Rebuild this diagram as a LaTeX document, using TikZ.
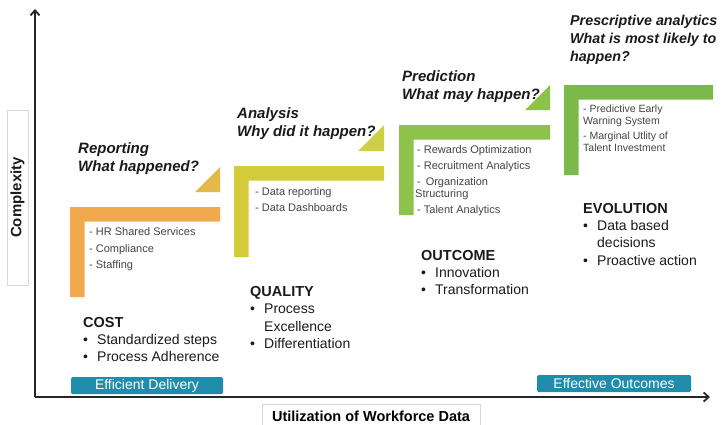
\documentclass[tikz,border=0pt]{standalone}
\usepackage{fontspec}
\setmainfont{Liberation Sans}
\usetikzlibrary{arrows.meta}

\definecolor{barorange}{HTML}{F2A94E}
\definecolor{triorange}{HTML}{E6B84A}
\definecolor{baryellow}{HTML}{D4CB3A}
\definecolor{triyellow}{HTML}{CDD046}
\definecolor{bargreen}{HTML}{8DC34A}
\definecolor{bardkgreen}{HTML}{7AB94A}
\definecolor{tealtag}{HTML}{1E8CAA}
\definecolor{inkdark}{HTML}{1A1A1A}
\definecolor{inksub}{HTML}{444444}
\definecolor{frame}{HTML}{D8D8D8}

% L-shaped step: corner (#1,#2), horizontal arm to x=#3, vertical arm down to y=#4
\newcommand{\stepL}[5]{%
  \fill[#5] (#1,#2) -- (#3,#2) -- (#3,#2+14.5) -- (#1+14.5,#2+14.5)
            -- (#1+14.5,#4) -- (#1,#4) -- cycle;}
% right triangle with its right angle at the lower right corner (#2,#3), legs of length #1
\newcommand{\steptri}[4]{%
  \fill[#4] (#2-#1,#3) -- (#2,#3) -- (#2,#3-#1) -- cycle;}

\tikzset{
  head/.style={font=\fontsize{15}{18}\selectfont\bfseries\itshape, text=inkdark,
               anchor=base west, inner sep=0pt},
  headnarrow/.style={head, font=\fontsize{14.3}{18}\selectfont\bfseries\itshape},
  cat/.style={font=\fontsize{14.5}{17}\selectfont\bfseries, text=inkdark,
              anchor=base west, inner sep=0pt},
  item/.style={font=\fontsize{14}{17}\selectfont, text=inkdark,
               anchor=base west, inner sep=0pt},
  sub/.style={font=\fontsize{11}{13}\selectfont, text=inksub,
              anchor=base west, inner sep=0pt},
  subsmall/.style={font=\fontsize{10.5}{12}\selectfont, text=inksub,
                   anchor=base west, inner sep=0pt},
  tag/.style={fill=tealtag, text=white, rounded corners=1.5pt, inner sep=0pt,
              font=\fontsize{14}{16}\selectfont, minimum height=17pt},
  axis/.style={line width=1.8pt, draw=black!85, -{Straight Barb[length=5pt,width=9pt]}},
  labelbox/.style={draw=frame, line width=0.8pt, fill=white, inner sep=0pt},
}
\newcommand{\bul}{\makebox[14pt][l]{•}}

\begin{document}
\begin{tikzpicture}[x=1pt,y=-1pt]
\useasboundingbox (0,0) rectangle (722,424);

% axes
\coordinate (origin) at (35,397);
\coordinate (ytop) at (35,9);
\coordinate (xend) at (710,397);
\draw[axis] (origin) -- (ytop);
\draw[axis] (origin) -- (xend);

% axis titles
\node[labelbox, minimum width=21pt, minimum height=175pt] (yframe) at (17.5,197.5) {};
\node[rotate=90, font=\fontsize{15}{17}\selectfont\bfseries, text=inkdark] (ylabel) at (yframe.center) {Complexity};
\node[labelbox, minimum width=218pt, minimum height=24pt] (xlabel) at (371,416)
  {\raisebox{-3pt}{\fontsize{14.5}{17}\selectfont\bfseries Utilization of Workforce Data}};

% steps
\stepL{70}{207}{220}{297}{barorange}
\steptri{25}{220}{192}{triorange}
\stepL{234}{166}{384}{257}{baryellow}
\steptri{26}{384}{151}{triyellow}
\stepL{399}{125}{550}{215}{bargreen}
\steptri{25}{550}{110}{bargreen}
\stepL{564}{85}{713}{175}{bardkgreen}

% stage 1: reporting
\node[head] (h1a) at (78,153) {Reporting};
\node[head] (h1b) at (78,171) {What happened?};
\node[sub] (s1a) at (89,235) {- HR Shared Services};
\node[sub] (s1b) at (89,252) {- Compliance};
\node[sub] (s1c) at (89,268) {- Staffing};
\node[cat] (c1) at (83,327) {COST};
\node[item] (c1a) at (83,344) {\bul Standardized steps};
\node[item] (c1b) at (83,361) {\bul Process Adherence};

% stage 2: analysis
\node[head] (h2a) at (237,118) {Analysis};
\node[head] (h2b) at (237,136) {Why did it happen?};
\node[sub] (s2a) at (255,195) {- Data reporting};
\node[sub] (s2b) at (255,211) {- Data Dashboards};
\node[cat] (c2) at (250,296) {QUALITY};
\node[item] (c2a) at (250,313) {\bul Process};
\node[item] (c2b) at (264,331) {Excellence};
\node[item] (c2c) at (250,348) {\bul Differentiation};

% stage 3: prediction
\node[head] (h3a) at (402,81) {Prediction};
\node[head] (h3b) at (402,99) {What may happen?};
\node[sub] (s3a) at (417,153) {- Rewards Optimization};
\node[sub] (s3b) at (417,169) {- Recruitment Analytics};
\node[sub] (s3c) at (417,185) {-\, Organization};
\node[sub] (s3d) at (415,197) {Structuring};
\node[sub] (s3e) at (417,213) {- Talent Analytics};
\node[cat] (c3) at (421,260) {OUTCOME};
\node[item] (c3a) at (421,277) {\bul Innovation};
\node[item] (c3b) at (421,294) {\bul Transformation};

% stage 4: prescriptive analytics
\node[headnarrow] (h4a) at (570,25) {Prescriptive analytics};
\node[headnarrow] (h4b) at (570,43) {What is most likely to};
\node[headnarrow] (h4c) at (570,61) {happen?};
\node[subsmall] (s4a) at (583,112) {- Predictive Early};
\node[subsmall] (s4b) at (583,124) {Warning System};
\node[subsmall] (s4c) at (583,139) {- Marginal Utlity of};
\node[subsmall] (s4d) at (583,151) {Talent Investment};
\node[cat] (c4) at (583,213) {EVOLUTION};
\node[item] (c4a) at (583,230) {\bul Data based};
\node[item] (c4b) at (597,247) {decisions};
\node[item] (c4c) at (583,265) {\bul Proactive action};

% delivery tags on the horizontal axis
\node[tag, minimum width=152pt] (t1) at (147,385.5) {Efficient Delivery};
\node[tag, minimum width=154pt] (t2) at (614,383.5) {Effective Outcomes};
\end{tikzpicture}
\end{document}
